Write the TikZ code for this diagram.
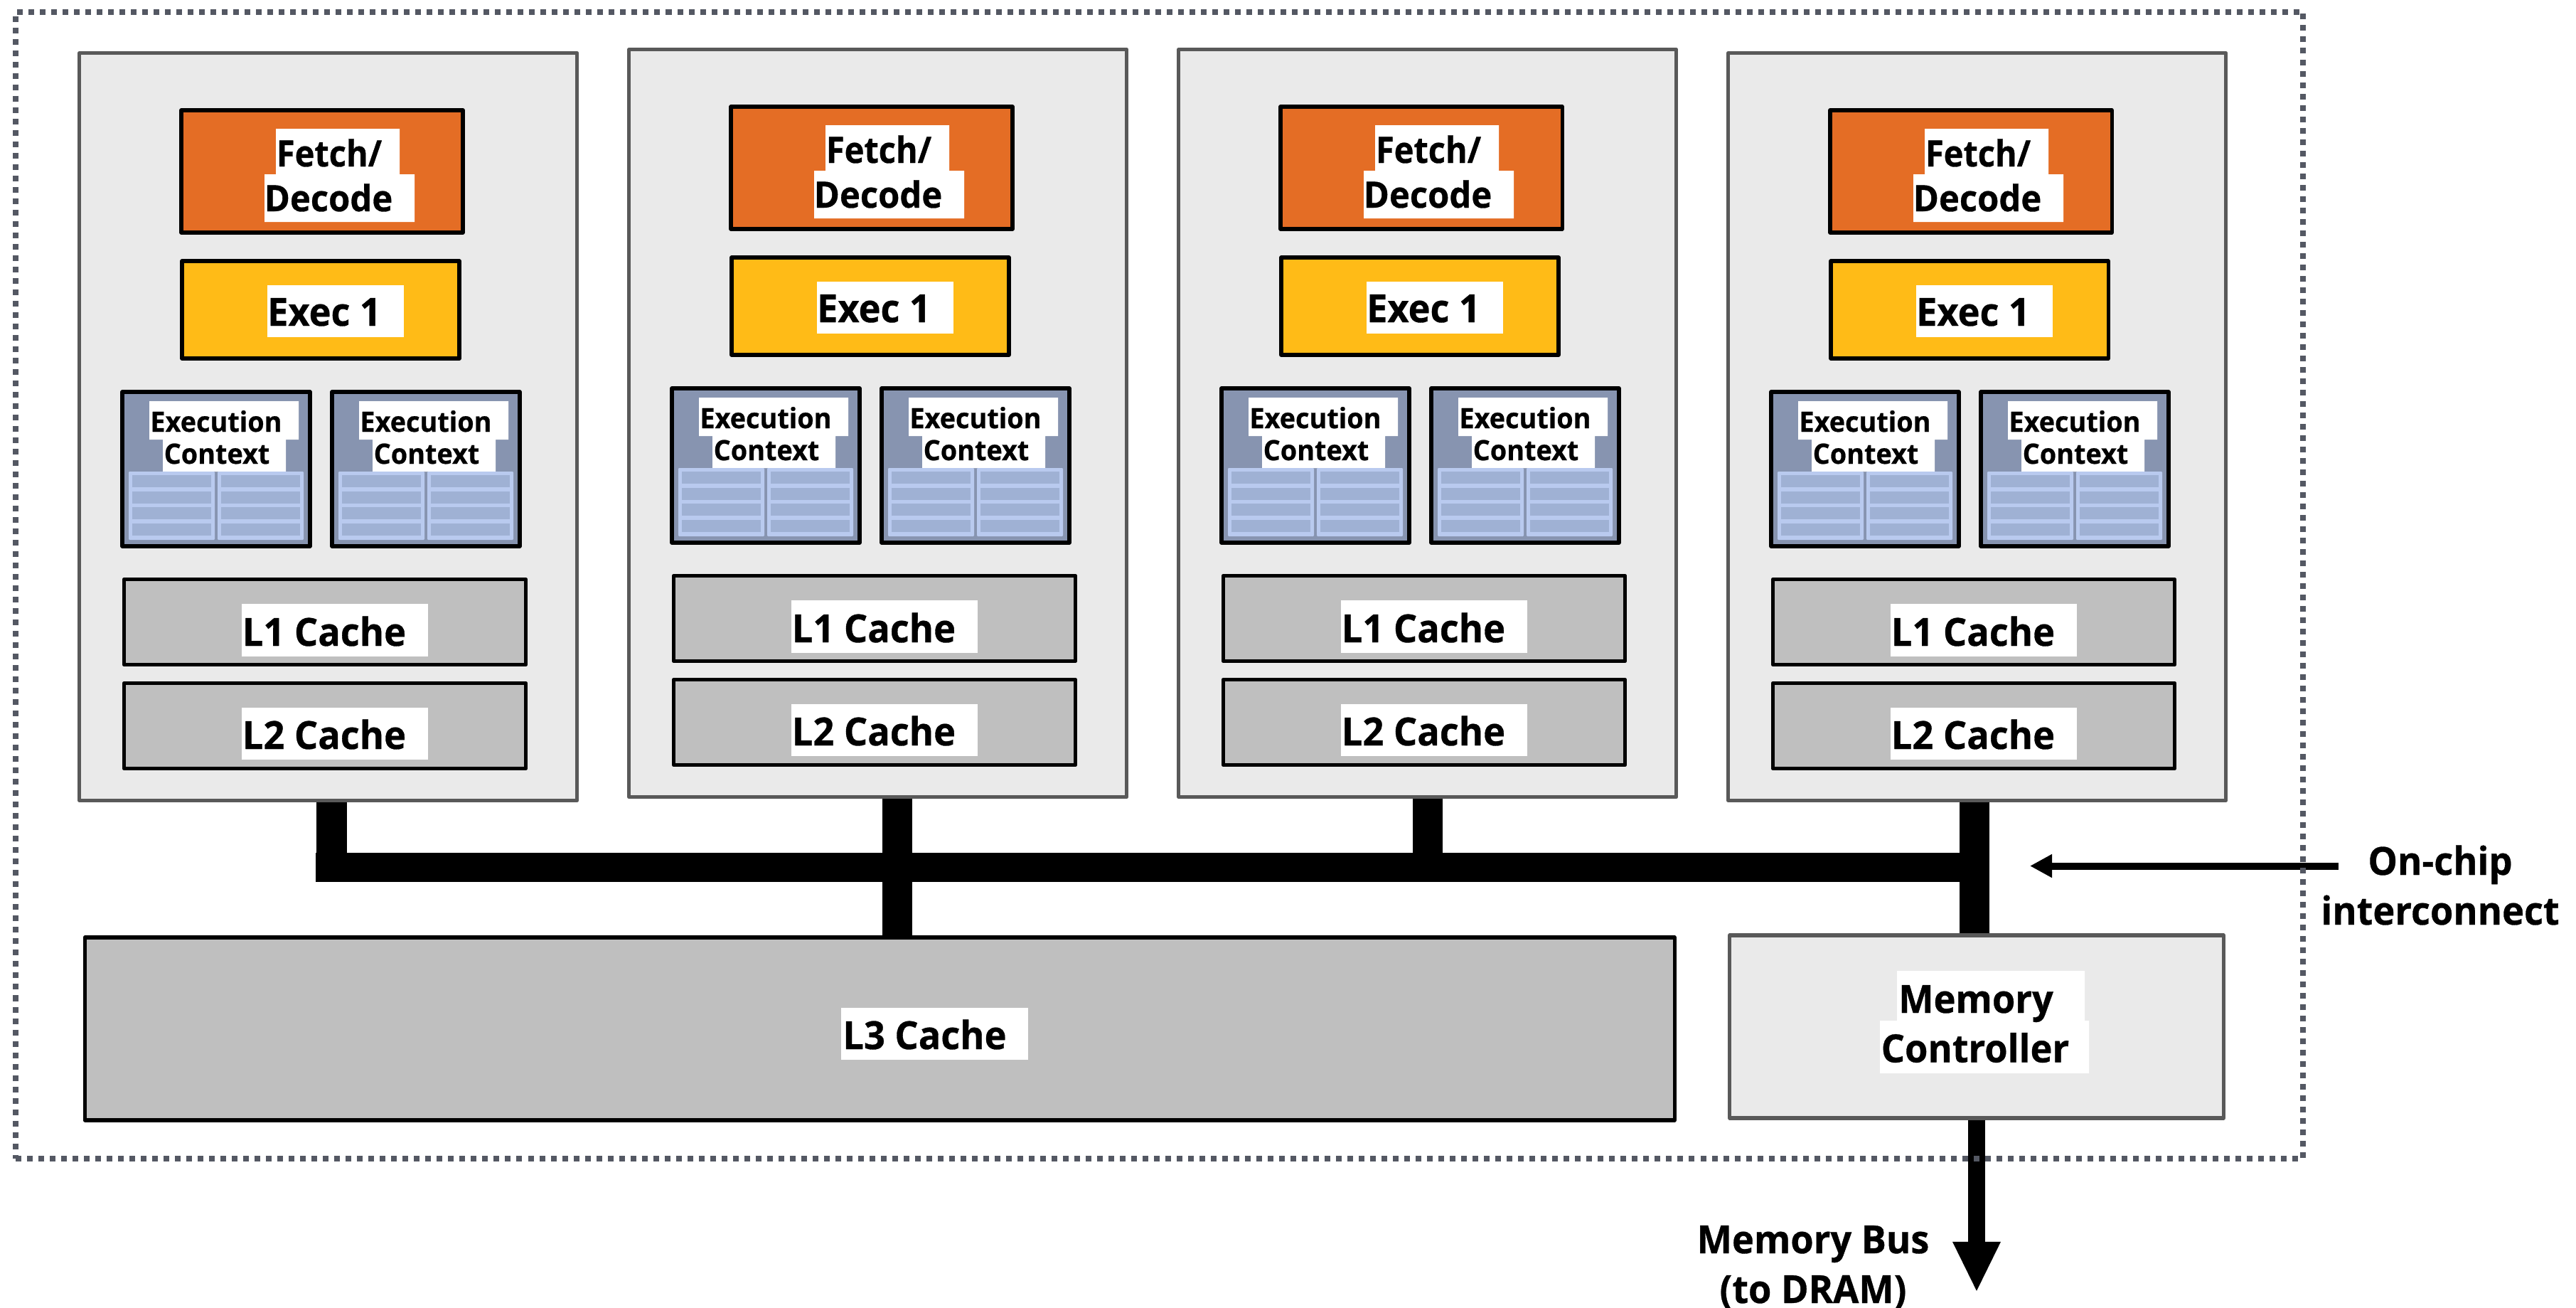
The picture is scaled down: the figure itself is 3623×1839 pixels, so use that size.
\documentclass[tikz,border=0pt]{standalone}
\usepackage{fontspec}
\setmainfont{Open Sans}[FakeStretch=0.96, BoldFeatures={FakeBold=0.6}]
\newfontfamily\fetchfont{Open Sans}[FakeStretch=0.92, BoldFeatures={FakeBold=0.6}]
\newfontfamily\decodefont{Open Sans}[FakeStretch=0.96, BoldFeatures={FakeBold=0.6}]
\usetikzlibrary{arrows.meta}
\definecolor{chipdot}{HTML}{545863}
\definecolor{coreedge}{HTML}{595959}
\definecolor{corefill}{HTML}{EAEAEA}
\definecolor{fetchfill}{HTML}{E46D25}
\definecolor{execfill}{HTML}{FFBB17}
\definecolor{ctxfill}{HTML}{8794B0}
\definecolor{regfill}{HTML}{B9CAEF}
\definecolor{rowfill}{HTML}{9FB1D4}
\definecolor{cachefill}{HTML}{BFBFBF}
\begin{document}
\begin{tikzpicture}[
x=0.01cm, y=-0.01cm,
corebox/.style={rectangle, draw=coreedge, fill=corefill, line width=1.5pt, line join=round, inner sep=0pt},
unit/.style={rectangle, draw=black, line width=1.5pt, line join=round, inner sep=0pt},
txt/.style={anchor=base, inner sep=0pt, font=\bfseries\fontsize{15.5}{18}\selectfont},
fetchtxt/.style={anchor=base, inner sep=0pt, font=\bfseries\fontsize{14.5}{18}\selectfont},
smalltxt/.style={anchor=base, inner sep=0pt, font=\bfseries\fontsize{11.2}{14}\selectfont},
busline/.style={line width=0.41cm},
stub/.style={line width=0.425cm},
chipline/.style={rectangle, draw=chipdot, line width=0.08cm, dash pattern=on 0.08cm off 0.08cm, inner sep=0pt}
]
\useasboundingbox (0,0) rectangle (3623,1839);
\foreach \i/\dx/\dy in {1/0/0, 2/773/-5, 3/1546/-5, 4/2319/0}{
  \begin{scope}[shift={(\dx,\dy)}]
    \node[corebox, minimum width=6.995cm, minimum height=10.505cm] (core\i) at (461.75,600) {};
    \node[unit, fill=fetchfill, minimum width=3.96cm, minimum height=1.72cm] (fetch\i) at (453,241) {};
    \fill[white] (388,181) rectangle (562,245) (372,245) rectangle (583,312);
    \node[fetchtxt] (fetchlabel\i) at (463,234) {\fetchfont Fetch/};
    \node[fetchtxt] (decodelabel\i) at (462,297) {\decodefont Decode};
    \node[unit, fill=execfill, minimum width=3.9cm, minimum height=1.37cm] (exec\i) at (451,435.5) {};
    \fill[white] (376,401) rectangle (568,474);
    \node[txt] (exectxt\i) at (456,458) {Exec 1};
    \foreach \c/\cx in {a/0, b/295}{
      \begin{scope}[shift={(\cx,0)}]
        \node[unit, fill=ctxfill, minimum width=2.64cm, minimum height=2.17cm] (ctx\i\c) at (304,659.5) {};
        \fill[white] (210,564) rectangle (420,618) (229,618) rectangle (402,663);
        \node[smalltxt] (ctxtop\i\c) at (304,607) {Execution};
        \node[smalltxt] (ctxbot\i\c) at (305,652) {Context};
        \foreach \rx in {0,125}{
          \fill[regfill, rounded corners=0.3pt] (181+\rx,663) rectangle (302+\rx,759);
          \foreach \ry in {668,690.7,713.3,736}
            \fill[rowfill] (186+\rx,\ry) rectangle (297+\rx,\ry+17);
        }
      \end{scope}
    }
    \node[unit, fill=cachefill, minimum width=5.65cm, minimum height=1.2cm] (lone\i) at (457,874.5) {};
    \fill[white] (340,849) rectangle (602,923);
    \node[txt] (lonetxt\i) at (456,908) {L1 Cache};
    \node[unit, fill=cachefill, minimum width=5.65cm, minimum height=1.2cm] (ltwo\i) at (457,1020.5) {};
    \fill[white] (340,995) rectangle (602,1068);
    \node[txt] (ltwotxt\i) at (456,1053) {L2 Cache};
  \end{scope}
}
\node[unit, fill=cachefill, minimum width=22.345cm, minimum height=2.57cm] (lthree) at (1237.25,1446.5) {};
\fill[white] (1183,1417) rectangle (1446,1490);
\node[txt] (lthreetxt) at (1300.5,1475) {L3 Cache};
\node[corebox, minimum width=6.94cm, minimum height=2.57cm] (memctrl) at (2780,1443.5) {};
\fill[white] (2668,1365) rectangle (2932,1435) (2644,1435) rectangle (2938,1509);
\node[txt] (memtxt) at (2779,1424) {Memory};
\node[txt] (ctrltxt) at (2778,1493.5) {Controller};
\coordinate (tap1) at (466.5,1219.5);
\coordinate (tap2) at (1262,1219.5);
\coordinate (tap3) at (2008,1219.5);
\coordinate (tap4) at (2777,1219.5);
\coordinate (busend) at (444,1219.5);
\coordinate (busright) at (2798,1219.5);
\coordinate (dram) at (2780,1817);
\coordinate (onchipfrom) at (3289,1217.5);
\coordinate (onchipto) at (2855,1217.5);
\draw[busline] (busend) -- (busright);
\draw[stub] (tap1 |- core1.south) -- (tap1);
\draw[stub] (tap2 |- core2.south) -- (tap2 |- lthree.north);
\draw[stub] (tap3 |- core3.south) -- (tap3);
\draw[stub] (tap4 |- core4.south) -- (tap4 |- memctrl.north);
\draw[line width=0.24cm, -{Triangle[length=0.71cm, width=0.62cm]}] (dram |- memctrl.south) -- (dram);
\draw[line width=0.1cm, -{Triangle[length=0.31cm, width=0.31cm]}] (onchipfrom) -- (onchipto);
\node[chipline, minimum width=32.15cm, minimum height=16.12cm] (chip) at (1630.5,823) {};
\node[txt] (onchip) at (3432,1230) {On-chip};
\node[txt] (interconn) at (3432,1300) {interconnect};
\node[txt] (membus) at (2550,1762) {Memory Bus};
\node[txt] (todram) at (2550,1832) {(to DRAM)};
\end{tikzpicture}
\end{document}
